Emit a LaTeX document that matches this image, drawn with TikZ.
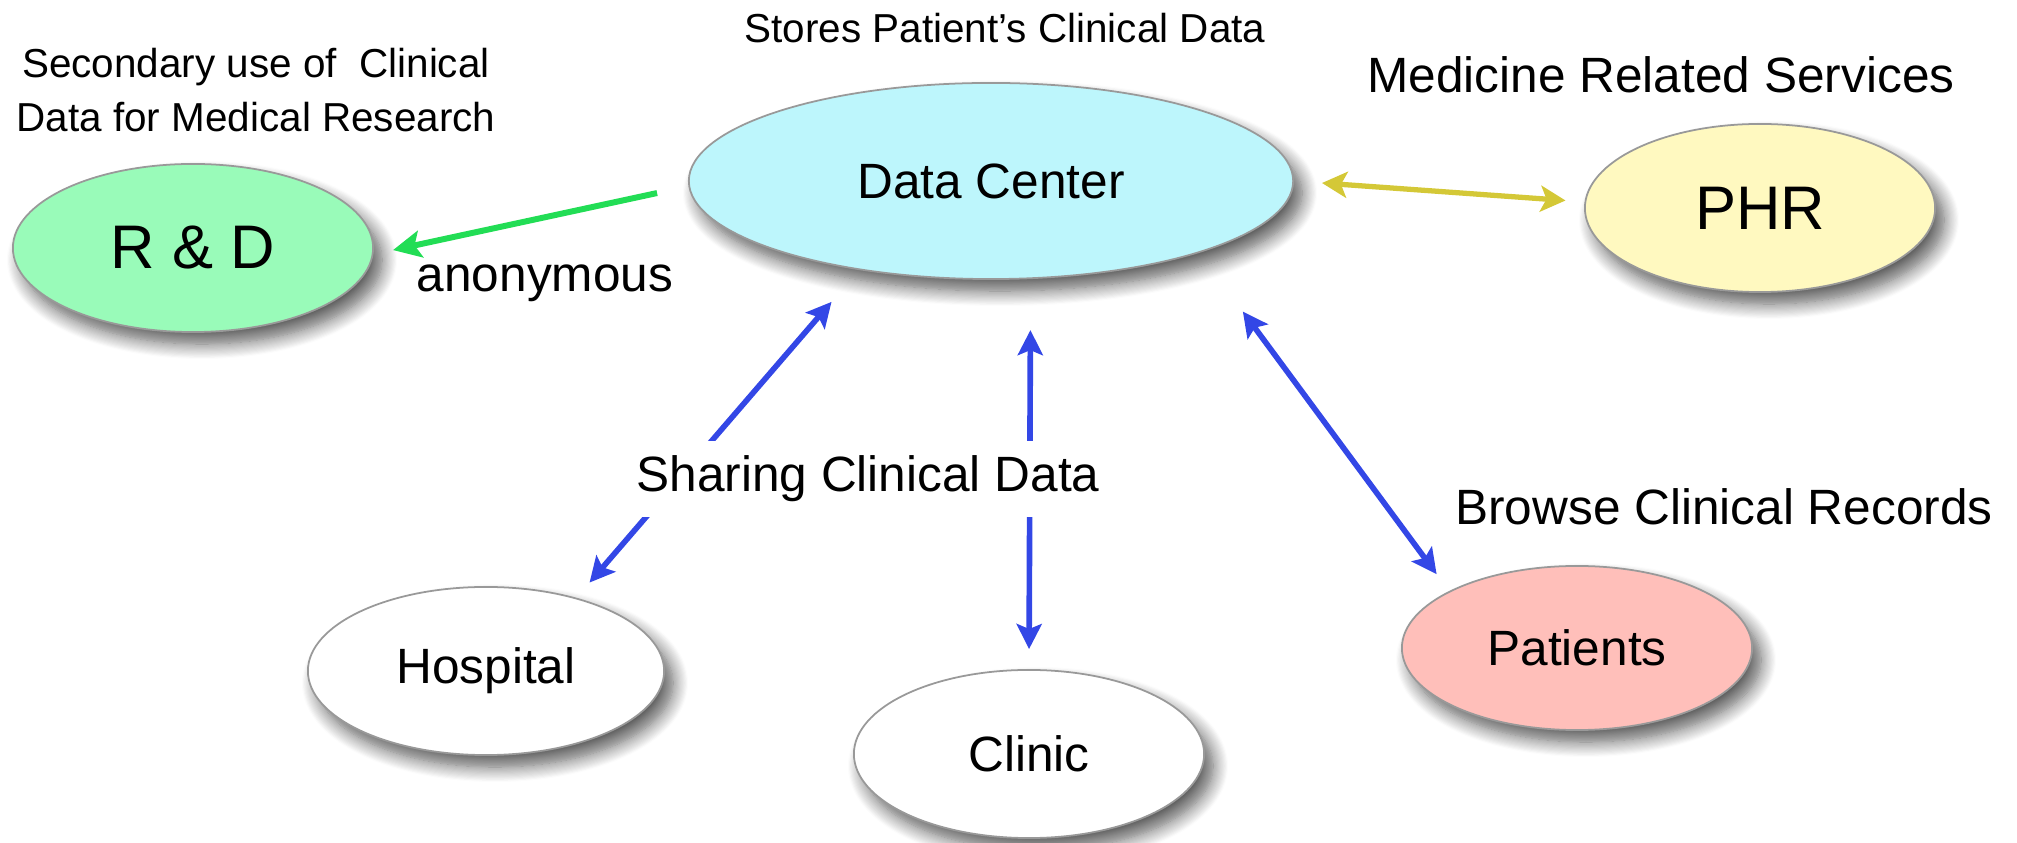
\documentclass[tikz,border=0pt]{standalone}
\usepackage{fontspec}
\setmainfont{Liberation Sans}
\usetikzlibrary{shapes.geometric,arrows.meta,shadows.blur}

\definecolor{fondcentre}{RGB}{189,246,252}
\definecolor{fondrd}{RGB}{153,251,185}
\definecolor{fondphr}{RGB}{255,249,192}
\definecolor{fondpat}{RGB}{255,191,186}
\definecolor{traitbleu}{RGB}{51,71,230}
\definecolor{traitvert}{RGB}{34,221,85}
\definecolor{traitjaune}{RGB}{212,200,55}
\newcommand{\moyen}{\fontsize{14.1}{17}\selectfont}
\newcommand{\petit}{\fontsize{11.5}{15.4}\selectfont}
\newcommand{\grand}{\fontsize{17.5}{21}\selectfont}

\begin{document}
\begin{tikzpicture}[
    x=0.01cm, y=-0.01cm, font=\moyen,
    ovale/.style={ellipse, draw=black!40, line width=0.5pt, inner sep=0pt,
      minimum width=3.5cm, minimum height=1.68cm,
      blur shadow={shadow xshift=0.9mm, shadow yshift=-1.2mm,
        shadow blur radius=1.5mm, shadow blur steps=14, shadow opacity=65}},
    lienb/.style={line width=1.6pt, draw=traitbleu,
      {Stealth[length=2.5mm,width=2.5mm,inset=0.5mm]}-{Stealth[length=2.5mm,width=2.5mm,inset=0.5mm]}},
    lienv/.style={line width=1.7pt, draw=traitvert,
      -{Stealth[length=2.8mm,width=2.7mm,inset=0.6mm]}},
    lienj/.style={line width=1.5pt, draw=traitjaune,
      {Stealth[length=2.5mm,width=2.6mm,inset=0.6mm]}-{Stealth[length=2.5mm,width=2.6mm,inset=0.6mm]}}
  ]
  \useasboundingbox (0,0) rectangle (2017,843);
  \path (991,181) node(a) [ovale, minimum width=6.04cm, minimum height=1.96cm,
      fill=fondcentre] {Data Center}
  (193,248) node(b) [ovale, minimum width=3.6cm, fill=fondrd, font=\grand] {R \& D}
  (1760,208) node(c) [ovale, fill=fondphr, font=\grand] {PHR}
  (486,671) node(d) [ovale, minimum width=3.56cm, fill=white] {Hospital}
  (1029,754) node(e) [ovale, fill=white] {Clinic}
  (1577,648) node(f) [ovale, minimum height=1.64cm, fill=fondpat] {Patients};

  \path (1005,28) node(t1) [font=\petit] {Stores Patient's Clinical Data}
  (256,90) node(t2) [font=\petit, align=center] {Secondary use of~~Clinical\\
    Data for Medical Research}
  (1661,75) node(t3) {Medicine Related Services}
  (545,283) node(t4) {anonymous}
  (1724,507) node(t5) {Browse Clinical Records};

  \draw[lienv, shorten <=3.2mm, shorten >=2mm] (a.181.7) -- (b.-2.3);
  \draw[lienj, shorten <=2.8mm, shorten >=1.9mm] (a.0) -- (c.178.5);
  \draw[lienb, shorten <=4.2mm, shorten >=2mm] (a.214.4) -- (d.39.7);
  \draw[lienb, shorten <=5.1mm, shorten >=2mm] (a.-68.6) -- (e.north);
  \draw[lienb, shorten <=7.3mm, shorten >=2.1mm] (a.-19.1) -- (f.156.3);

  \node(t6) [fill=white, minimum height=0.76cm, inner sep=1pt] at (868,479)
    {Sharing Clinical Data};
\end{tikzpicture}
\end{document}
